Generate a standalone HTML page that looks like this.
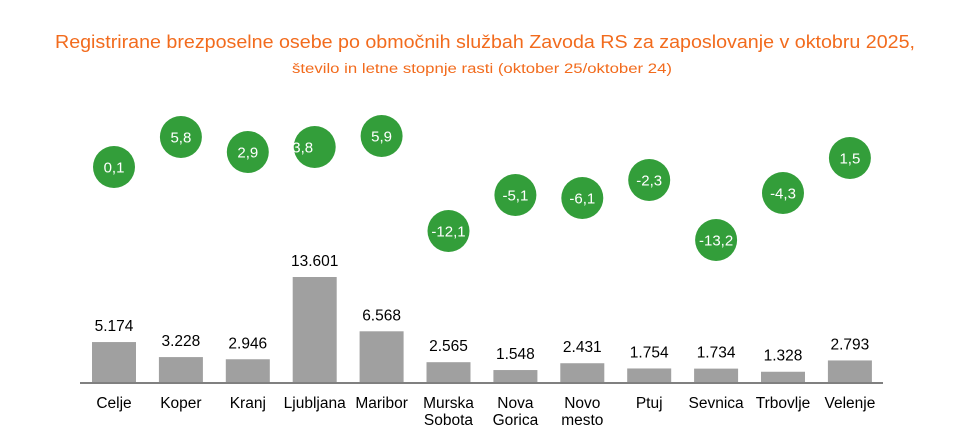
<!DOCTYPE html>
<html><head><meta charset="utf-8"><style>
html,body{margin:0;padding:0;background:#fff;width:956px;height:444px;overflow:hidden}
svg{display:block}
</style></head><body>
<svg width="956" height="444" xmlns="http://www.w3.org/2000/svg" font-family="Liberation Sans, sans-serif">
<text x="485" y="48" text-anchor="middle" font-size="18" fill="#F26B1D" textLength="860" lengthAdjust="spacingAndGlyphs">Registrirane brezposelne osebe po območnih službah Zavoda RS za zaposlovanje v oktobru 2025,</text>
<text x="482" y="73" text-anchor="middle" font-size="13.5" fill="#F26B1D" textLength="380" lengthAdjust="spacingAndGlyphs">število in letne stopnje rasti (oktober 25/oktober 24)</text>
<g id="bars" fill="#A0A0A0"></g>
<line x1="80" y1="383" x2="883" y2="383" stroke="#808080" stroke-width="2"/>
<g id="txt" font-size="15.5" fill="#000" text-anchor="middle"></g>
<g id="circ"></g>
</svg>
<script>
var d=[["Celje",5174,"0,1",167],["Koper",3228,"5,8",137],["Kranj",2946,"2,9",152],["Ljubljana",13601,"3,8",147],["Maribor",6568,"5,9",136],["Murska|Sobota",2565,"-12,1",231],["Nova|Gorica",1548,"-5,1",195],["Novo|mesto",2431,"-6,1",198],["Ptuj",1754,"-2,3",180],["Sevnica",1734,"-13,2",240],["Trbovlje",1328,"-4,3",193],["Velenje",2793,"1,5",158]];
var ns="http://www.w3.org/2000/svg";
function el(p,t,a,tx){var e=document.createElementNS(ns,t);for(var k in a)e.setAttribute(k,a[k]);if(tx!=null)e.textContent=tx;p.appendChild(e);return e;}
var B=document.getElementById("bars"),T=document.getElementById("txt"),C=document.getElementById("circ");
d.forEach(function(r,i){var cx=114+66.9*i;var h=r[1]*0.00772;var top=382-h;
el(B,"rect",{x:cx-22,y:top,width:44,height:h});
el(T,"text",{x:cx,y:top-11},r[1].toLocaleString("de-DE"));
var ls=r[0].split("|");ls.forEach(function(l,j){el(T,"text",{x:cx,y:408+j*17,"font-size":15.5},l);});
el(C,"circle",{cx:cx,cy:r[3],r:21,fill:"#339E3A"});
el(C,"text",{x:(i==3?cx-12:cx),y:r[3]+5.5,"text-anchor":"middle","font-size":15,fill:"#fff"},r[2]);
});
</script>
</body></html>
